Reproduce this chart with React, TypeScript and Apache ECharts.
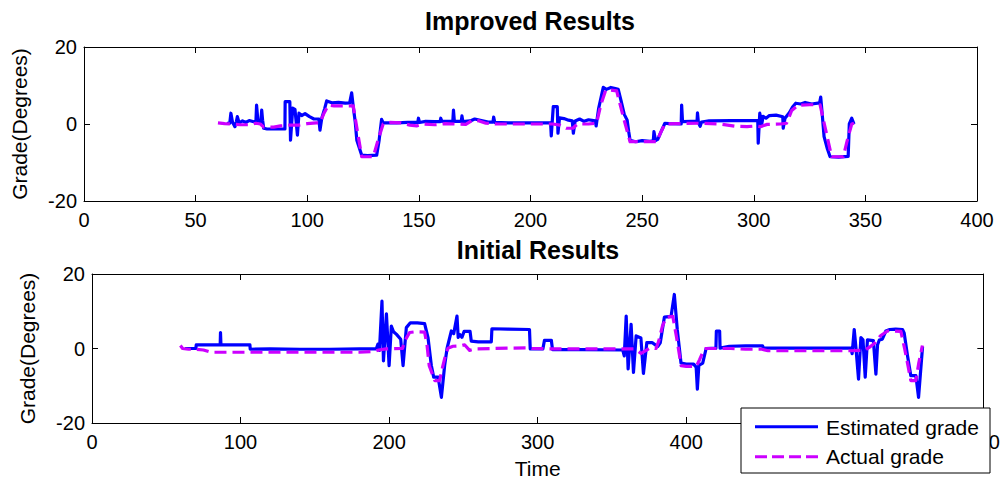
import React, { useEffect, useRef } from "react";
import * as echarts from "echarts";

// Improved estimate vs. actual grade, [time, degrees]
const improvedEstimated: [number, number][] = [
  [64, 0.2], [65.3, 0.2], [65.8, 2.8], [66.5, 0.5], [67.6, -0.7], [68.2, 0.5], [68.7, 1.9], [69.5, 0.3],
  [71, 0.8], [72.5, 0.4], [74, 0.9], [76, 0.6], [77, 0.5], [77.3, 4.9], [77.9, 0.8], [79.2, 0.6],
  [79.6, 3.6], [80.0, 1.0], [80.5, -1.1], [82, -1.3], [86, -1.3], [90, -1.3], [90.1, 5.8], [92.2, 5.8],
  [92.5, -4.2], [93.5, 4.1], [94.5, 3.8], [95.6, -2.9], [96.3, 2.8], [97.5, 2.2], [99, 2.7], [101, 1.9],
  [103, 1.3], [105.2, 1.3], [105.7, -1.6], [106.5, 1.5], [107.8, 4.0], [108.7, 6.0], [111, 5.5], [114, 5.6],
  [117, 5.4], [119.0, 5.5], [119.9, 8.1], [120.6, 4.5], [121.5, 0.5], [122.2, -4.2], [124.4, -8.1], [127, -8.2],
  [131.1, -8.1], [132.2, -4.2], [133.3, 1.2], [134, 0.3], [136, 0.3], [140, 0.3], [145, 0.4], [149.5, 0.4],
  [149.8, 1.5], [150.3, 0.4], [153, 0.7], [157, 0.6], [159.5, 0.6], [159.8, 1.5], [160.3, 0.7], [165.2, 0.7],
  [165.5, 3.6], [165.9, 0.7], [169, 0.7], [169.3, 2.1], [169.7, 0.6], [173, 0.8], [175, 1.3], [178, 0.9],
  [181, 0.5], [183.2, 0.5], [183.5, 1.8], [184, 0.4], [190, 0.3], [200, 0.3], [209.0, 0.3], [209.3, -3.1],
  [210.2, 4.5], [212, 4.5], [212.3, -2.4], [213, 1.6], [215, 1.4], [217, 1.0], [218.7, 0.8], [219.2, -2.4],
  [220, 0.8], [222, 1.3], [224, 0.7], [226, 1.1], [229, 0.8], [229.4, -0.5], [230.5, 4.0], [232.6, 9.5],
  [234, 9.0], [236, 9.5], [238, 9.2], [239.3, 9.0], [240.5, 6.2], [242, 2.5], [243.3, 1.0], [244, -2.0],
  [244.6, -4.2], [247, -4.6], [250, -4.3], [253.5, -4.5], [255, -4.4], [255.3, -2.0], [256, -4.3], [257, -4.0],
  [258.5, -2.0], [260.2, 0.2], [262, 0.1], [267.5, 0.0], [267.7, 4.9], [268.1, 0.6], [272, 0.7], [274.6, 0.7],
  [274.8, 2.9], [275.2, 0.4], [276, -0.6], [276.6, 0.5], [280, 0.8], [290, 0.9], [301.8, 0.9], [302, -5.0],
  [302.7, 2.8], [303.6, 0.0], [304.2, 2.0], [305.5, 1.5], [307, 2.2], [310, 2.3], [313, 1.9], [313.2, -1.1],
  [314, 1.5], [316, 3.0], [317.5, 4.5], [318.8, 5.4], [321, 5.2], [323, 5.6], [326, 5.2], [329.5, 5.5],
  [330, 7.0], [330.6, 3.0], [331.5, -3.3], [333, -6.5], [334.2, -8.5], [338, -8.6], [342.3, -8.4], [342.8, 0.0],
  [343.9, 1.5], [344.9, 0.0],
];

const improvedActual: [number, number][] = [
  [60, 0.3], [63, 0.1], [66, 0], [70, -0.2], [74, -0.2], [77, 0.2], [79, 0.0], [80.5, -0.8],
  [85, -0.8], [88, -0.5], [92, -0.3], [96, -0.3], [100, 0.1], [104, 0.3], [105.7, 0.3], [107.5, 2.8],
  [109.4, 4.9], [112, 4.7], [116, 4.7], [120.6, 4.7], [122.5, -2], [124.4, -8.5], [127, -8.5], [129.6, -8.5],
  [131.8, -4], [134, 0], [137, 0.4], [142, 0.3], [146, -0.3], [149, -0.5], [152, 0], [157, -0.2],
  [162, 0.1], [166, 0], [171, -0.1], [174, 1.0], [177, 0.8], [180, 0.2], [185, 0], [200, 0],
  [210, 0], [213.2, -0.3], [216, -1.1], [219, -1.1], [221, 0], [226, 0], [229.6, 0.2], [231.5, 5],
  [233.7, 8.8], [236, 8.8], [238.6, 8.6], [241.5, 2], [244.6, -4.6], [250, -4.6], [256.5, -4.6], [258.5, -2],
  [260.2, 0], [265, 0.1], [275, 0.2], [285, 0], [292, -0.6], [297, -0.7], [301, -0.5], [303, -0.7],
  [306, -0.1], [312, 0], [314.7, 0.2], [317, 3.5], [319.8, 4.9], [325, 5], [329.7, 5], [332, -1],
  [334.9, -8.5], [338, -8.5], [340.1, -8.5], [342, -4], [343.9, 0], [344.9, 0.2],
];

// Initial estimate vs. actual grade, [time, degrees]
const initialEstimated: [number, number][] = [
  [62.6, 0], [69.9, 0], [70.2, 1.0], [86.3, 1.0], [86.5, 4.3], [86.8, 1.0], [106.3, 1.0], [106.5, -0.2],
  [120, -0.1], [140, -0.2], [160, -0.2], [180, -0.1], [191.4, -0.1], [192.5, 1.2], [193.5, -0.5], [195.2, 12.7],
  [196.2, -3.3], [198.2, 9.3], [200.0, -4.6], [201.5, 6.0], [203, 4.5], [205, 3.8], [207.8, 2.5], [209.4, -4.6],
  [211.6, 5.6], [214.3, 6.9], [219, 6.9], [223.9, 6.7], [226.2, 2.9], [228.4, -4.5], [230, -7.7], [233, -7.7],
  [235.2, -13.1], [237.4, -4.5], [239, 0], [241.9, 4.7], [243.5, 4.0], [245.7, 8.7], [246.5, 3.0], [247.5, 3.8],
  [249, 3.0], [250.5, 4.6], [254.5, 4.6], [255.3, 2.0], [260, 1.8], [268.8, 1.8], [269.2, 5.3], [280, 5.2],
  [294.5, 5.1], [295, -0.1], [303.5, -0.1], [304.6, 2.2], [309.2, 2.2], [310, -0.3], [330, -0.3], [357.3, -0.4],
  [358.3, -2.0], [359.6, 8.7], [360.9, -5.5], [362.9, 6.5], [364.5, -6.4], [366.3, 3.4], [369.5, 2.8], [371.2, -6.7],
  [373.5, 1.6], [377, 1.6], [380.8, 0.5], [382.5, 1.5], [385.3, 8.4], [389.8, 8.6], [392, 14.5], [394, 5],
  [396.5, -3.9], [400, -4.2], [405, -4.2], [406.7, -5], [407.5, -10.9], [408.5, -4.5], [411.1, -3.9], [413.4, 0],
  [420, 0.1], [420.3, 4.7], [422.5, 4.7], [422.8, 0.1], [429, 0.6], [440, 0.7], [451.4, 0.7], [452, 0.1],
  [480, 0.1], [510.9, 0.1], [511.7, -1.4], [513.1, 5.1], [514.3, 0], [516, -8.2], [517.6, 2.9], [519, 2.3],
  [520.5, -7.7], [522, 2.3], [526, 2.1], [527.7, -6.9], [528.8, 1.0], [530, 2.3], [532, 2.5], [534.4, 4.7],
  [537, 5.1], [541, 5.2], [545.6, 5.1], [546.7, 4.2], [549, -2], [551.2, -7.3], [554.6, -7.3], [556.4, -13.1],
  [559.1, 0.5],
];

const initialActual: [number, number][] = [
  [59.5, 0.8], [61, 0], [65, -0.2], [70, -0.2], [75, -0.4], [80, -1.0], [90, -1.0], [100, -1.0],
  [120, -1.0], [150, -1.0], [180, -1.0], [190, -0.8], [193, -0.4], [198, -0.1], [209, 0], [210.5, 2],
  [213.8, 4.3], [218, 4.5], [223.9, 4.4], [225.5, 1], [227, -4.6], [230.7, -8.6], [234, -8.6], [236, -5],
  [237.4, -2.7], [239.6, 0.1], [243, 0.6], [248, 0.7], [250.8, 1.0], [254.2, -0.5], [258, -0.1], [270, 0],
  [280, 0.1], [294, 0.2], [296, 0], [310, -0.1], [340, -0.1], [365, -0.1], [369.6, -1.3], [373, -0.5],
  [376, 0.2], [379.7, 0], [381.5, 2], [384, 6], [386.5, 8.4], [391, 8.6], [393.5, 3], [396.6, -4.6],
  [400, -4.8], [406.7, -4.8], [409, -3], [412.2, 0], [420, 0], [430, 0], [440, -0.2], [451, -0.2],
  [455, -0.6], [480, -0.6], [510, -0.6], [520, -0.5], [523.2, 0.3], [527, 1.5], [531, 3.5], [535.5, 4.7],
  [540, 4.7], [544.5, 4.6], [547, 0], [549, -4], [551.2, -8.6], [554.6, -8.6], [556.5, -4], [559, 0.8],
];

const panelTitles = ["Improved Results", "Initial Results"];
const legendLabels = ["Estimated grade", "Actual grade"];
const yAxisTitle = "Grade(Degrees)";
const xAxisTitle = "Time";
// tick value that sits entirely under the legend box
const legendCoveredTicks = [500];

const BLUE = "#0000ff";
const MAGENTA = "#cc00ff";
const FONT = "'Liberation Sans', Arial, Helvetica, sans-serif";

function frameX(gridIndex: number, pos: "top" | "bottom", max: number, interval: number, withLabels: boolean, name?: string) {
  return {
    type: "value",
    gridIndex,
    position: pos,
    min: 0,
    max,
    interval,
    name,
    nameLocation: "middle",
    nameGap: 35,
    nameTextStyle: { color: "#000", fontSize: 21, fontFamily: FONT },
    axisLine: { show: true, onZero: false, lineStyle: { color: "#000", width: 1 } },
    axisTick: { show: true, inside: true, length: 6, lineStyle: { color: "#000" } },
    axisLabel: {
      show: withLabels,
      margin: 9,
      color: "#000",
      fontSize: 20,
      fontFamily: FONT,
      formatter: (v: number) => (legendCoveredTicks.includes(v) && gridIndex === 1 ? "" : String(v)),
    },
    splitLine: { show: false },
  };
}

function frameY(gridIndex: number, pos: "left" | "right", withLabels: boolean) {
  return {
    type: "value",
    gridIndex,
    position: pos,
    min: -20,
    max: 20,
    interval: 20,
    name: withLabels ? yAxisTitle : undefined,
    nameLocation: "middle",
    nameGap: 54,
    nameTextStyle: { color: "#000", fontSize: 21, fontFamily: FONT },
    axisLine: { show: true, onZero: false, lineStyle: { color: "#000", width: 1 } },
    axisTick: { show: true, inside: true, length: 6, lineStyle: { color: "#000" } },
    axisLabel: { show: withLabels, margin: 7, color: "#000", fontSize: 20, fontFamily: FONT },
    splitLine: { show: false },
  };
}

function lineSeries(data: [number, number][], axis: number, color: string, dashed: boolean) {
  return {
    type: "line",
    xAxisIndex: axis,
    yAxisIndex: axis,
    data,
    symbol: "none",
    showSymbol: false,
    silent: true,
    lineStyle: { color, width: 3.2, type: dashed ? [12, 6] : "solid", cap: "butt", join: "round" },
  };
}

export default function App() {
  const ref = useRef<HTMLDivElement>(null);

  useEffect(() => {
    if (!ref.current) return;
    const chart = echarts.init(ref.current, undefined, { renderer: "svg" });
    chart.setOption({
      animation: false,
      backgroundColor: "#fff",
      grid: [
        { left: 84, top: 47, width: 893, height: 154 },
        { left: 92, top: 274, width: 892, height: 150 },
      ],
      xAxis: [
        frameX(0, "bottom", 400, 50, true),
        frameX(0, "top", 400, 50, false),
        frameX(1, "bottom", 600, 100, true, xAxisTitle),
        frameX(1, "top", 600, 100, false),
      ],
      yAxis: [
        frameY(0, "left", true),
        frameY(0, "right", false),
        frameY(1, "left", true),
        frameY(1, "right", false),
      ],
      series: [
        lineSeries(improvedEstimated, 0, BLUE, false),
        lineSeries(improvedActual, 0, MAGENTA, true),
        lineSeries(initialEstimated, 2, BLUE, false),
        lineSeries(initialActual, 2, MAGENTA, true),
      ],
      graphic: [
        {
          type: "text", x: 530, y: 20.5, z: 100,
          style: { text: panelTitles[0], align: "center", verticalAlign: "middle", fill: "#000", font: `bold 25px ${FONT}` },
        },
        {
          type: "text", x: 538, y: 249.5, z: 100,
          style: { text: panelTitles[1], align: "center", verticalAlign: "middle", fill: "#000", font: `bold 25px ${FONT}` },
        },
        {
          type: "rect", z: 100,
          shape: { x: 741, y: 408, width: 249, height: 65 },
          style: { fill: "#fff", stroke: "#000", lineWidth: 1 },
        },
        {
          type: "line", z: 101,
          shape: { x1: 755, y1: 426.7, x2: 818, y2: 426.7 },
          style: { stroke: BLUE, lineWidth: 3 },
        },
        {
          type: "line", z: 101,
          shape: { x1: 755, y1: 456.7, x2: 818, y2: 456.7 },
          style: { stroke: MAGENTA, lineWidth: 3, lineDash: [12, 5] },
        },
        {
          type: "text", x: 826, y: 427.5, z: 101,
          style: { text: legendLabels[0], align: "left", verticalAlign: "middle", fill: "#000", font: `21px ${FONT}` },
        },
        {
          type: "text", x: 826, y: 456.5, z: 101,
          style: { text: legendLabels[1], align: "left", verticalAlign: "middle", fill: "#000", font: `21px ${FONT}` },
        },
      ],
    });
    return () => chart.dispose();
  }, []);

  return (
    <div
      ref={ref}
      style={{ position: "fixed", left: 0, top: 0, width: 1003, height: 480, background: "#fff" }}
    />
  );
}
